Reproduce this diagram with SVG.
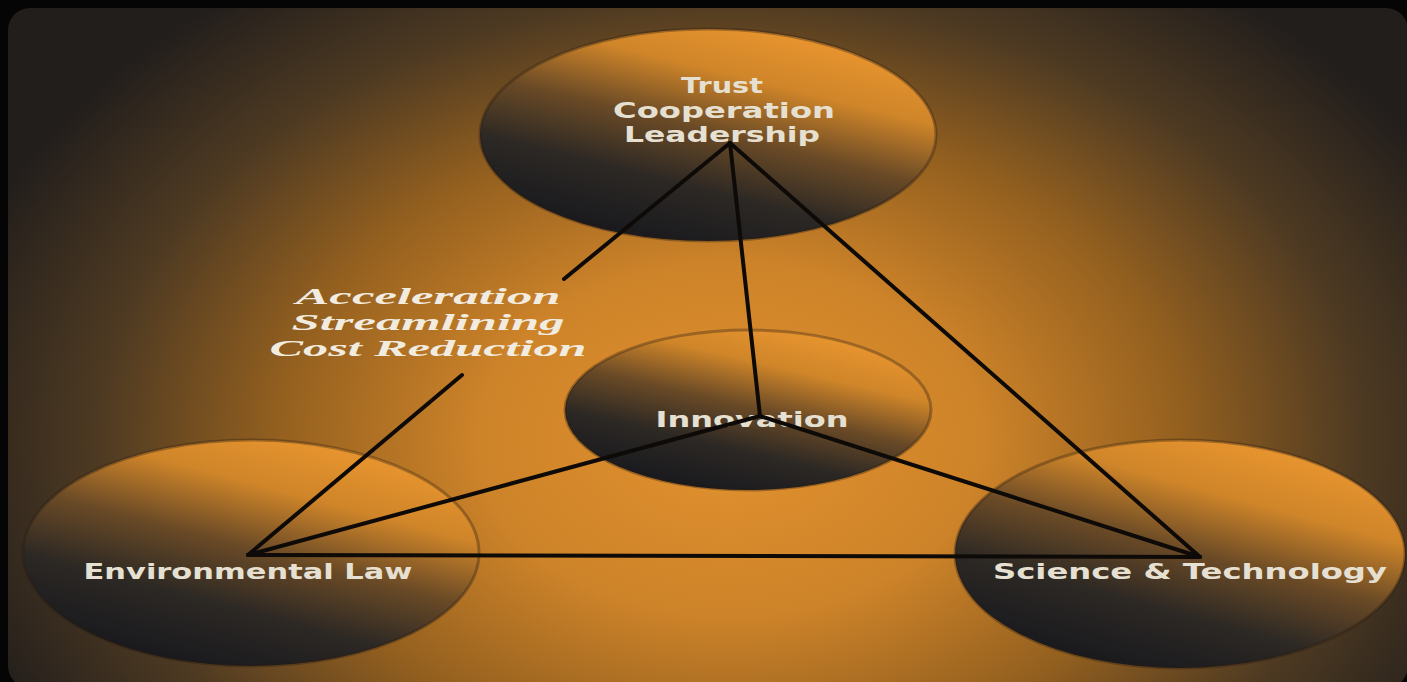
<svg xmlns="http://www.w3.org/2000/svg" width="1407" height="682" viewBox="0 0 1407 682">
<defs>
<radialGradient id="bg" gradientUnits="userSpaceOnUse" cx="730" cy="440" r="900" gradientTransform="translate(730 440) scale(1 0.7) translate(-730 -440)">
<stop offset="0" stop-color="#e3922f"/>
<stop offset="0.28" stop-color="#cd8329"/>
<stop offset="0.5" stop-color="#94601f"/>
<stop offset="0.7" stop-color="#4e3a22"/>
<stop offset="0.9" stop-color="#221e1c"/>
</radialGradient>
<linearGradient id="ball" x1="0.78" y1="0.05" x2="0.3" y2="0.95">
<stop offset="0" stop-color="#ea962f"/>
<stop offset="0.25" stop-color="#cf8529"/>
<stop offset="0.5" stop-color="#6a4a26"/>
<stop offset="0.75" stop-color="#2c2824"/>
<stop offset="1" stop-color="#1a1a1e"/>
</linearGradient>
</defs>
<style>
.ell{fill:url(#ball);stroke:#2a1c10;stroke-opacity:0.35;stroke-width:3}
.lbl{font-family:"DejaVu Sans","Liberation Sans",sans-serif;font-weight:bold;fill:#e6e0d2;text-anchor:middle}
.it{font-family:"Liberation Serif","DejaVu Serif",serif;font-weight:bold;font-style:italic;fill:#f2ece0;text-anchor:middle}
.ln{stroke:#0e0a08;stroke-width:4;fill:none;stroke-linecap:round}
</style>
<rect x="0" y="0" width="1407" height="682" fill="#050505"/>
<rect x="8" y="8" width="1400" height="680" rx="22" fill="url(#bg)"/>
<g id="node-top">
<ellipse class="ell" cx="708" cy="135" rx="228" ry="106"/>
<text class="lbl" font-size="21" x="722" y="93" textLength="82" lengthAdjust="spacingAndGlyphs">Trust</text>
<text class="lbl" font-size="21" x="724" y="118" textLength="222" lengthAdjust="spacingAndGlyphs">Cooperation</text>
<text class="lbl" font-size="21" x="722" y="142" textLength="196" lengthAdjust="spacingAndGlyphs">Leadership</text>
</g>
<g id="node-innovation">
<ellipse class="ell" cx="748" cy="410" rx="183" ry="80"/>
<text class="lbl" font-size="21" x="752" y="427" textLength="193" lengthAdjust="spacingAndGlyphs">Innovation</text>
</g>
<g id="node-env">
<ellipse class="ell" cx="251" cy="553" rx="228" ry="113"/>
<text class="lbl" font-size="21" x="248" y="579" textLength="329" lengthAdjust="spacingAndGlyphs">Environmental Law</text>
</g>
<g id="node-sci">
<ellipse class="ell" cx="1180" cy="554" rx="225" ry="114"/>
<text class="lbl" font-size="21" x="1190" y="579" textLength="394" lengthAdjust="spacingAndGlyphs">Science &amp; Technology</text>
</g>
<g id="connectors">
<line class="ln" x1="730" y1="143" x2="564" y2="279"/>
<line class="ln" x1="462" y1="375" x2="248" y2="555"/>
<line class="ln" x1="730" y1="143" x2="760" y2="416"/>
<line class="ln" x1="730" y1="143" x2="1200" y2="557"/>
<line class="ln" x1="248" y1="555" x2="760" y2="416"/>
<line class="ln" x1="760" y1="416" x2="1200" y2="557"/>
<line class="ln" x1="248" y1="555" x2="1200" y2="557"/>
</g>
<g id="label-accel">
<text class="it" font-size="24" x="428" y="304" textLength="265" lengthAdjust="spacingAndGlyphs">Acceleration</text>
<text class="it" font-size="24" x="428" y="330" textLength="273" lengthAdjust="spacingAndGlyphs">Streamlining</text>
<text class="it" font-size="24" x="428" y="356" textLength="317" lengthAdjust="spacingAndGlyphs">Cost Reduction</text>
</g>
</svg>
